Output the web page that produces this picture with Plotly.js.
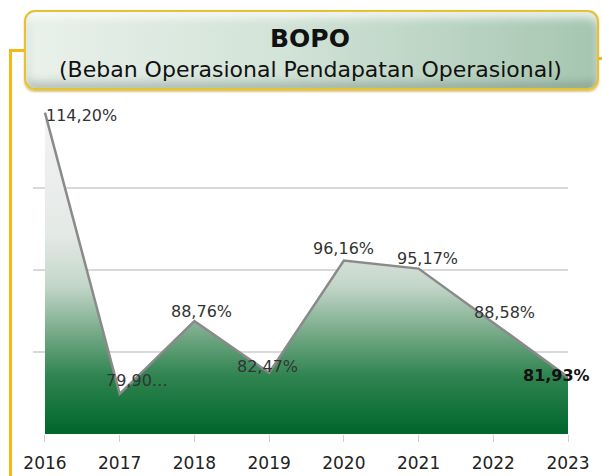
<!DOCTYPE html>
<html>
<head>
<meta charset="utf-8">
<script src="https://cdn.plot.ly/plotly-3.0.1.min.js"></script>
<style>
  html, body { margin: 0; padding: 0; background: #ffffff; }
  #wrap { position: relative; width: 602px; height: 476px; overflow: hidden; }
  #vline { position: absolute; left: 9px; top: 49px; width: 3px; height: 440px; background: #f5b915; }
  #hstubL { position: absolute; left: 9px; top: 49px; width: 18px; height: 3px; background: #f5b915; }
  #hstubR { position: absolute; left: 590px; top: 57px; width: 12px; height: 3px; background: #f5b915; }
  #box {
    position: absolute; left: 24px; top: 10px; width: 571px; height: 76px;
    border-radius: 11px;
    border: 2px solid #e6c233;
    background: linear-gradient(to right, #e9f1eb 0%, #d2e3d7 45%, #a6c6b1 100%);
    box-shadow: inset 0 6px 8px rgba(255,255,255,0.75), inset 0 -6px 8px rgba(90,110,95,0.35), 0 2px 2px rgba(190,160,40,0.6);
  }
  #chart { position: absolute; left: 0; top: 0; width: 602px; height: 476px; }
</style>
</head>
<body>
<div id="wrap">
  <div id="vline"></div>
  <div id="hstubL"></div>
  <div id="hstubR"></div>
  <div id="box"></div>
  <div id="chart"></div>
</div>
<script>
// ---- data ----
const years = [2016, 2017, 2018, 2019, 2020, 2021, 2022, 2023];
const bopo = [114.20, 79.90, 88.76, 82.47, 96.16, 95.17, 88.58, 81.93];
const labels = ['114,20%', '79,90…', '88,76%', '82,47%', '96,16%', '95,17%', '88,58%', '81,93%'];
const tickLabels = ['2016', '2017', '2018', '2019', '2020', '2021', '2022', '2023'];
const titleText = 'BOPO';
const subtitleText = '(Beban Operasional Pendapatan Operasional)';

// ---- label styling (offsets in px) ----
const labelShiftX = [-1, 17, 7, -2, 0, 9, 11, -12];
const labelShiftY = [-3, 13, 10, 6, 12, 10, 10, 2];
const labelAnchor = ['left', 'center', 'center', 'center', 'center', 'center', 'center', 'center'];
const boldIdx = 7;

const FONT = 'DejaVu Sans, Noto Sans, sans-serif';

const trace = {
  x: years,
  y: bopo,
  type: 'scatter',
  mode: 'lines',
  line: { color: '#8a8a8a', width: 2.5 },
  fill: 'tozeroy',
  fillgradient: {
    type: 'vertical',
    start: 75,
    stop: 114.2,
    colorscale: [
      [0, '#00662a'],
      [0.18, '#2f8450'],
      [0.32, '#79ab8a'],
      [0.46, '#c3d6c9'],
      [0.62, '#e4e9e6'],
      [1, '#f3f3f3']
    ]
  },
  hoverinfo: 'skip'
};

const annotations = years.map((yr, i) => ({
  x: yr,
  y: bopo[i],
  xref: 'x',
  yref: 'y',
  text: i === boldIdx ? '<b>' + labels[i] + '</b>' : labels[i],
  showarrow: false,
  xanchor: labelAnchor[i],
  yanchor: 'middle',
  xshift: labelShiftX[i],
  yshift: labelShiftY[i],
  font: { family: FONT, size: 16, color: i === boldIdx ? '#111111' : '#333333' }
}));

// title and subtitle inside the header box
annotations.push({
  xref: 'paper', yref: 'paper', x: (310 - 33) / 535, y: (434 - 39) / 328,
  xanchor: 'center', yanchor: 'middle', showarrow: false,
  text: '<b>' + titleText + '</b>',
  font: { family: FONT, size: 25, color: '#111111' }
});
annotations.push({
  xref: 'paper', yref: 'paper', x: (310 - 33) / 535, y: (434 - 69) / 328,
  xanchor: 'center', yanchor: 'middle', showarrow: false,
  text: subtitleText,
  font: { family: FONT, size: 22, color: '#111111' }
});

const layout = {
  width: 602,
  height: 476,
  margin: { l: 33, r: 34, t: 106, b: 42 },
  paper_bgcolor: 'rgba(0,0,0,0)',
  plot_bgcolor: 'rgba(0,0,0,0)',
  showlegend: false,
  xaxis: {
    range: [2015.84, 2023],
    tickmode: 'array',
    tickvals: years,
    ticktext: tickLabels,
    showgrid: false,
    zeroline: false,
    showline: false,
    ticks: 'outside',
    ticklen: 7,
    tickwidth: 1,
    tickcolor: '#cfcfcf',
    ticklabelstandoff: 7,
    tickfont: { family: FONT, size: 17, color: '#222222' },
    fixedrange: true
  },
  yaxis: {
    range: [75, 115],
    dtick: 10,
    tick0: 75,
    showticklabels: false,
    showgrid: true,
    gridcolor: '#d9d9d9',
    gridwidth: 1.5,
    zeroline: false,
    showline: false,
    fixedrange: true
  },
  annotations: annotations
};

Plotly.newPlot('chart', [trace], layout, { displayModeBar: false, staticPlot: true });
</script>
</body>
</html>
